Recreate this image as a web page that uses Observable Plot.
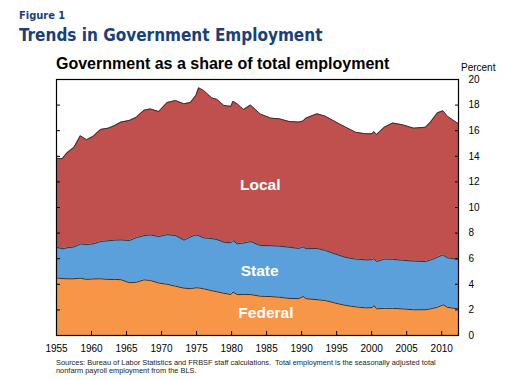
<!DOCTYPE html>
<html>
<head>
<meta charset="utf-8">
<script src="https://cdn.jsdelivr.net/npm/d3@7"></script>
<script src="https://cdn.jsdelivr.net/npm/@observablehq/plot@0.6"></script>
<style>
  html, body { margin: 0; padding: 0; background: #fff; }
  #page { position: relative; width: 510px; height: 380px; overflow: hidden; background: #fff; }
  .abs { position: absolute; white-space: nowrap; line-height: 1; }
  #fig { left: 19px; top: 9px; font: bold 11px "DejaVu Sans Condensed", "DejaVu Sans", sans-serif; font-stretch: condensed; color: #1b3f7a; }
  #title { left: 19px; top: 25px; font: bold 17px "DejaVu Sans Condensed", "DejaVu Sans", sans-serif; font-stretch: condensed; color: #1b3f7a; }
  #subtitle { left: 56px; top: 55px; font: bold 16px "Liberation Sans", Arial, sans-serif; color: #000; }
  #unit { left: 461px; top: 62px; font: 10px "Liberation Sans", Arial, sans-serif; color: #000; }
  #chart { position: absolute; left: 0; top: 75px; }
  #caption { left: 56px; top: 359px; font: 7.4px "Liberation Sans", Arial, sans-serif; line-height: 7.6px; color: #222; white-space: pre; }
</style>
</head>
<body>
<div id="page">
  <div id="fig" class="abs">Figure 1</div>
  <div id="title" class="abs">Trends in Government Employment</div>
  <div id="subtitle" class="abs">Government as a share of total employment</div>
  <div id="unit" class="abs">Percent</div>
  <div id="chart"></div>
  <div id="caption" class="abs">Sources: Bureau of Labor Statistics and FRBSF staff calculations.  Total employment is the seasonally adjusted total
nonfarm payroll employment from the BLS.</div>
</div>
<script>
// Year (decimal) sample points
const years = [1955.0, 1955.8, 1956.5, 1957.5, 1958.4, 1959.3, 1960.2, 1961.3, 1962.4, 1963.3,
  1964.2, 1965.4, 1966.4, 1967.5, 1968.4, 1969.6, 1970.8, 1972.0, 1973.2, 1974.1,
  1974.9, 1975.3, 1976.0, 1977.2, 1977.9, 1978.9, 1979.9, 1980.2, 1980.8, 1981.7,
  1982.7, 1984.1, 1985.6, 1986.8, 1988.2, 1989.6, 1990.2, 1990.6, 1992.2, 1993.4,
  1994.9, 1996.3, 1997.7, 1999.1, 2000.1, 2000.3, 2000.7, 2001.8, 2003.0, 2004.4,
  2006.0, 2007.7, 2008.4, 2009.4, 2010.2, 2010.8, 2012.4];

// Shares of total employment (percent)
const federal = [4.5, 4.45, 4.43, 4.43, 4.48, 4.38, 4.42, 4.43, 4.38, 4.38,
  4.36, 4.12, 4.16, 4.35, 4.3, 4.1, 4.0, 3.85, 3.7, 3.66,
  3.73, 3.72, 3.65, 3.5, 3.42, 3.3, 3.2, 3.4, 3.2, 3.2,
  3.2, 3.07, 3.04, 2.99, 2.9, 2.88, 3.05, 2.88, 2.8, 2.73,
  2.52, 2.35, 2.24, 2.16, 2.18, 2.34, 2.08, 2.12, 2.12, 2.08,
  2.01, 2.02, 2.08, 2.21, 2.4, 2.2, 2.08];

const state = [2.4, 2.32, 2.42, 2.49, 2.67, 2.72, 2.74, 2.91, 3.02, 3.07,
  3.11, 3.3, 3.49, 3.45, 3.56, 3.63, 3.88, 3.96, 3.75, 4.04,
  4.13, 4.08, 3.98, 4.07, 4.08, 3.99, 4.04, 4.02, 3.96, 4.02,
  4.14, 3.96, 3.98, 3.99, 4.0, 3.92, 3.88, 3.9, 4.0, 3.91,
  3.83, 3.75, 3.73, 3.75, 3.74, 3.66, 3.7, 3.85, 3.83, 3.8,
  3.8, 3.76, 3.82, 3.91, 3.9, 3.87, 3.86];

const local = [6.95, 7.03, 7.42, 7.78, 8.45, 8.2, 8.39, 8.76, 8.8, 8.95,
  9.2, 9.38, 9.4, 9.8, 9.84, 9.77, 10.32, 10.54, 10.65, 10.5,
  10.89, 11.55, 11.51, 10.98, 10.95, 10.68, 10.66, 10.88, 10.94, 10.43,
  10.66, 10.27, 9.96, 9.95, 9.82, 9.87, 9.82, 10.2, 10.52, 10.49,
  10.32, 10.17, 9.91, 9.85, 9.84, 9.94, 9.92, 10.3, 10.65, 10.58,
  10.39, 10.49, 10.77, 11.28, 11.25, 11.06, 10.6];

const seriesNames = ["Federal", "State", "Local"];
const seriesColors = ["#f79646", "#5b9fdb", "#c0504d"];

const xTicks = [1955, 1960, 1965, 1970, 1975, 1980, 1985, 1990, 1995, 2000, 2005, 2010];
const yTicks = [0, 2, 4, 6, 8, 10, 12, 14, 16, 18, 20];

// Band labels (annotation anchors in data units)
const labelNames = ["Federal", "State", "Local"];
const labelYears = [1984.9, 1984.0, 1984.1];
const labelValues = [1.77, 5.02, 11.77];

const seriesValues = [federal, state, local];
const rows = [];
seriesNames.forEach((name, i) => {
  years.forEach((yr, j) => rows.push({ year: yr, share: seriesValues[i][j], series: name }));
});
const labels = labelNames.map((n, i) => ({ name: n, year: labelYears[i], value: labelValues[i] }));

const chart = Plot.plot({
  width: 510,
  height: 285,
  marginTop: 4,
  marginBottom: 25,
  marginLeft: 56,
  marginRight: 52,
  style: { fontFamily: "Liberation Sans, Arial, sans-serif", fontSize: "10px", color: "#000", background: "transparent" },
  x: { domain: [1955, 2012.4] },
  y: { domain: [0, 20] },
  color: { domain: seriesNames, range: seriesColors },
  marks: [
    Plot.areaY(rows, { x: "year", y: "share", fill: "series", order: seriesNames }),
    Plot.lineY(rows, Plot.stackY2({ x: "year", y: "share", z: "series", order: seriesNames, stroke: "#333", strokeWidth: 1 })),
    Plot.text(labels, { x: "year", y: "value", text: "name", fill: "white", fontSize: 15.5, fontWeight: "bold" }),
    Plot.axisY({ anchor: "left", ticks: yTicks, tickSize: -4, tickFormat: () => "", label: null }),
    Plot.axisY({ anchor: "right", ticks: yTicks, tickSize: -4, tickFormat: () => "", label: null }),
    Plot.axisY({ anchor: "right", ticks: yTicks, tickSize: 0, tickPadding: 10, label: null }),
    Plot.axisX({ anchor: "bottom", ticks: xTicks, tickSize: -4, tickFormat: () => "", label: null }),
    Plot.axisX({ anchor: "bottom", ticks: xTicks, tickSize: 0, tickPadding: 9, tickFormat: d => String(d), label: null }),
    Plot.frame({ stroke: "#000", strokeWidth: 1.2 })
  ]
});
document.getElementById("chart").appendChild(chart);
</script>
</body>
</html>
